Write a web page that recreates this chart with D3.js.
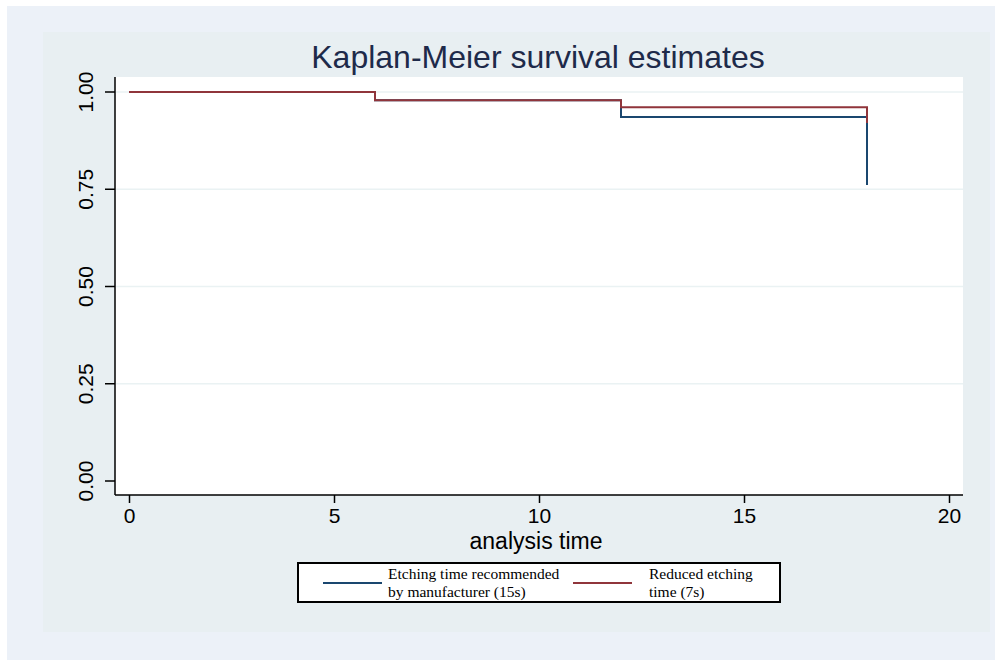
<!DOCTYPE html>
<html>
<head>
<meta charset="utf-8">
<script src="https://cdn.jsdelivr.net/npm/d3@7"></script>
<style>
  html, body { margin: 0; padding: 0; background: #ffffff; }
  svg { display: block; }
</style>
</head>
<body>
<svg id="chart" width="995" height="660"></svg>
<script>
// ---- data ----
const title = "Kaplan-Meier survival estimates";
const xAxisTitle = "analysis time";
const xTicks = [0, 5, 10, 15, 20];
const yTicks = [0, 0.25, 0.5, 0.75, 1];
const yTickLabels = ["0.00", "0.25", "0.50", "0.75", "1.00"];

// step functions: times and survival after each time
const seriesNames = ["Etching time recommended|by manufacturer (15s)", "Reduced etching|time (7s)"];
const blueTimes = [0, 6, 12, 18];
const blueSurv  = [1.0, 0.979, 0.936, 0.761];
const redTimes  = [0, 6, 12, 18];
const redSurv   = [1.0, 0.979, 0.961, 0.920];
const endTime = 18;

const colors = ["#1a476f", "#90353b"];

// ---- layout ----
const svg = d3.select("#chart");
const W = 995, H = 660;

// outer and inner backgrounds
svg.append("rect").attr("x", 7).attr("y", 6).attr("width", W - 7).attr("height", H - 6).attr("fill", "#ecf1f8");
svg.append("rect").attr("x", 43).attr("y", 32).attr("width", 947).attr("height", 600).attr("fill", "#e8eff2");

const plot = { left: 115, right: 963, top: 77, bottom: 495 };
svg.append("rect").attr("x", plot.left).attr("y", plot.top)
  .attr("width", plot.right - plot.left).attr("height", plot.bottom - plot.top).attr("fill", "#ffffff");

const x = d3.scaleLinear().domain([0, 20]).range([129, 949]);
const y = d3.scaleLinear().domain([0, 1]).range([481, 92]);

// gridlines
svg.append("g").selectAll("line").data(yTicks.filter(d => d > 0)).join("line")
  .attr("x1", plot.left + 1).attr("x2", plot.right)
  .attr("y1", d => y(d)).attr("y2", d => y(d))
  .attr("stroke", "#eaf2f3").attr("stroke-width", 1.5);

// axes
const yAxis = d3.axisLeft(y).tickValues(yTicks).tickSize(10).tickPadding(8)
  .tickFormat((d, i) => yTickLabels[i]);
const gy = svg.append("g").attr("transform", `translate(${plot.left},0)`).call(yAxis);
gy.select(".domain").attr("d", `M0,${plot.top}V${plot.bottom}`).attr("stroke", "#000").attr("stroke-width", 1.5);
gy.selectAll(".tick line").attr("stroke", "#000").attr("stroke-width", 1.5);
gy.selectAll(".tick text")
  .attr("font-family", "Liberation Sans, Arial, sans-serif").attr("font-size", 21).attr("fill", "#000")
  .attr("text-anchor", "middle")
  .attr("transform", "rotate(-90)")
  .attr("x", function(d) { return -y(d); })
  .attr("y", -30)
  .attr("dy", 0)
  .attr("dominant-baseline", "central");
gy.selectAll(".tick").attr("transform", "translate(0,0)");
gy.selectAll(".tick line").attr("y1", d => y(d)).attr("y2", d => y(d));

const xAxis = d3.axisBottom(x).tickValues(xTicks).tickSize(8).tickPadding(5).tickFormat(d3.format("d"));
const gx = svg.append("g").attr("transform", `translate(0,${plot.bottom})`).call(xAxis);
gx.select(".domain").attr("d", `M${plot.left},0H${plot.right}`).attr("stroke", "#000").attr("stroke-width", 1.5);
gx.selectAll(".tick line").attr("stroke", "#000").attr("stroke-width", 1.5);
gx.selectAll(".tick text")
  .attr("font-family", "Liberation Sans, Arial, sans-serif").attr("font-size", 21).attr("fill", "#000");

// title
svg.append("text").attr("x", 538).attr("y", 68).attr("text-anchor", "middle")
  .attr("font-family", "Liberation Sans, Arial, sans-serif").attr("font-size", 32)
  .attr("fill", "#1e2a4a").text(title);

svg.append("text").attr("x", 536).attr("y", 549).attr("text-anchor", "middle")
  .attr("font-family", "Liberation Sans, Arial, sans-serif").attr("font-size", 23)
  .attr("fill", "#000").text(xAxisTitle);

// step lines
function stepPoints(times, surv) {
  const pts = [];
  for (let i = 0; i < times.length; i++) {
    if (i > 0) pts.push([times[i], surv[i - 1]]);
    pts.push([times[i], surv[i]]);
  }
  const last = pts[pts.length - 1];
  if (last[0] < endTime) pts.push([endTime, last[1]]);
  return pts;
}
const line = d3.line().x(d => x(d[0])).y(d => y(d[1]));
[[blueTimes, blueSurv], [redTimes, redSurv]].forEach((s, i) => {
  svg.append("path").attr("d", line(stepPoints(s[0], s[1])))
    .attr("fill", "none").attr("stroke", colors[i]).attr("stroke-width", 2);
});

// legend
const lg = svg.append("g");
lg.append("rect").attr("x", 298).attr("y", 563).attr("width", 482).attr("height", 39)
  .attr("fill", "#ffffff").attr("stroke", "#000").attr("stroke-width", 2);
const legendItems = [
  { lx1: 323, lx2: 382, tx: 388 },
  { lx1: 573, lx2: 632, tx: 649 }
];
legendItems.forEach((it, i) => {
  lg.append("line").attr("x1", it.lx1).attr("x2", it.lx2).attr("y1", 583).attr("y2", 583)
    .attr("stroke", colors[i]).attr("stroke-width", 2);
  const lines = seriesNames[i].split("|");
  lines.forEach((t, j) => {
    lg.append("text").attr("x", it.tx).attr("y", 579 + j * 18)
      .attr("font-family", "Liberation Serif, Times New Roman, serif").attr("font-size", 15.5)
      .attr("fill", "#000").text(t);
  });
});
</script>
</body>
</html>
